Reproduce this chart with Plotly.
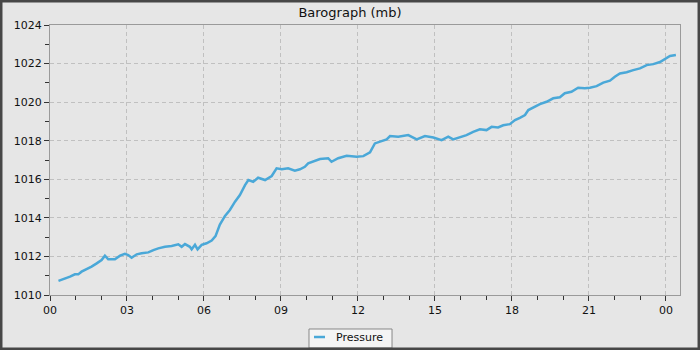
import plotly.graph_objects as go

# Time in hours since midnight, pressure in mb
hours = [0.33, 0.58, 0.78, 0.97, 1.10, 1.23, 1.43, 1.62, 1.82, 2.01, 2.14, 2.27, 2.53, 2.73, 2.92,
         3.05, 3.18, 3.38, 3.57, 3.83, 4.03, 4.22, 4.48, 4.74, 5.00, 5.13, 5.26, 5.45, 5.52, 5.65,
         5.75, 5.91, 6.10, 6.30, 6.45, 6.62, 6.82, 7.01, 7.21, 7.40, 7.60, 7.73, 7.92, 8.11, 8.38,
         8.64, 8.83, 9.03, 9.28, 9.54, 9.74, 9.93, 10.06, 10.32, 10.52, 10.84, 10.97, 11.23, 11.56,
         11.95, 12.21, 12.47, 12.66, 12.86, 13.12, 13.25, 13.57, 13.96, 14.29, 14.61, 14.94, 15.26,
         15.52, 15.71, 15.97, 16.23, 16.49, 16.75, 17.01, 17.21, 17.46, 17.66, 17.92, 18.12, 18.31,
         18.51, 18.64, 18.83, 19.09, 19.35, 19.61, 19.87, 20.06, 20.32, 20.58, 20.84, 21.04, 21.30,
         21.56, 21.82, 22.01, 22.21, 22.47, 22.73, 22.99, 23.25, 23.51, 23.77, 23.96, 24.16, 24.39]
pressure = [1010.73, 1010.83, 1010.95, 1011.07, 1011.07, 1011.21, 1011.33, 1011.47, 1011.64, 1011.81,
            1012.04, 1011.85, 1011.85, 1012.04, 1012.13, 1012.07, 1011.93, 1012.11, 1012.16, 1012.21,
            1012.33, 1012.42, 1012.50, 1012.54, 1012.63, 1012.50, 1012.64, 1012.50, 1012.37, 1012.60,
            1012.37, 1012.60, 1012.68, 1012.82, 1013.05, 1013.65, 1014.10, 1014.41, 1014.84, 1015.18,
            1015.70, 1015.96, 1015.87, 1016.08, 1015.96, 1016.17, 1016.57, 1016.52, 1016.57, 1016.45,
            1016.52, 1016.65, 1016.83, 1016.96, 1017.05, 1017.09, 1016.91, 1017.09, 1017.22, 1017.17,
            1017.20, 1017.40, 1017.86, 1017.95, 1018.07, 1018.24, 1018.21, 1018.29, 1018.07, 1018.24,
            1018.17, 1018.03, 1018.21, 1018.07, 1018.17, 1018.29, 1018.46, 1018.59, 1018.55, 1018.72,
            1018.69, 1018.80, 1018.86, 1019.07, 1019.19, 1019.33, 1019.59, 1019.71, 1019.90, 1020.02,
            1020.20, 1020.25, 1020.46, 1020.54, 1020.75, 1020.72, 1020.75, 1020.83, 1021.01, 1021.11,
            1021.32, 1021.49, 1021.55, 1021.66, 1021.75, 1021.92, 1021.97, 1022.08, 1022.22, 1022.39,
            1022.44]

tick_vals = [0, 3, 6, 9, 12, 15, 18, 21, 24]
tick_text = ["00", "03", "06", "09", "12", "15", "18", "21", "00"]
series_name = "Pressure"
line_color = "#4aa8d8"

fig = go.Figure()
fig.add_trace(go.Scatter(x=hours, y=pressure, mode="lines", name=series_name,
                         line=dict(color=line_color, width=2.5), showlegend=False))

axis_common = dict(showline=True, linecolor="#9a9a9a", linewidth=1, mirror=True,
                   ticks="outside", ticklen=5, tickcolor="#333333", tickwidth=1,
                   showgrid=True, gridcolor="#c0c0c0", griddash="4px,3px", gridwidth=1,
                   zeroline=False, tickfont=dict(family="DejaVu Sans", size=11, color="#111111"))

fig.update_xaxes(range=[0, 24.55], tickvals=tick_vals, ticktext=tick_text,
                 minor=dict(ticks="outside", dtick=1, tick0=0, ticklen=4, tickcolor="#333333",
                            showgrid=False),
                 **axis_common)
fig.update_yaxes(range=[1010, 1024], dtick=2, tick0=1010,
                 minor=dict(ticks="outside", dtick=1, tick0=1010, ticklen=4, tickcolor="#333333",
                            showgrid=False),
                 **axis_common)

# custom legend (box, short line, text)
fig.add_shape(type="rect", xref="paper", yref="paper", x0=0.4111, x1=0.5429, y0=-0.1963, y1=-0.1259,
              line=dict(color="#888888", width=1), fillcolor="#f4f4f4", layer="above")
fig.add_shape(type="line", xref="paper", yref="paper", x0=0.419, x1=0.4365, y0=-0.1556, y1=-0.1556,
              line=dict(color=line_color, width=2.5), layer="above")
fig.add_annotation(text=series_name, xref="paper", yref="paper", x=0.4508, y=-0.1556,
                   xanchor="left", yanchor="middle", showarrow=False,
                   font=dict(family="DejaVu Sans", size=11, color="#111111"))

fig.update_layout(
    width=700, height=350,
    margin=dict(l=50, r=20, t=25, b=55, autoexpand=False),
    paper_bgcolor="#e6e6e6", plot_bgcolor="#e6e6e6",
    title=dict(text="Barograph (mb)", x=0.5, xref="container", xanchor="center",
               y=12 / 350, yref="container", yanchor="middle", automargin=False,
               font=dict(family="DejaVu Sans", size=13, color="#111111")),
    showlegend=False,
    shapes=list(fig.layout.shapes) + [dict(type="rect", xref="paper", yref="paper",
                 x0=-0.0778, x1=1.0302, y0=-0.2, y1=1.0889,
                 line=dict(color="#474747", width=3), fillcolor="rgba(0,0,0,0)", layer="above")],
)
fig.update_layout(title_y=1 - 12 / 350)

fig.write_html("out.html")
